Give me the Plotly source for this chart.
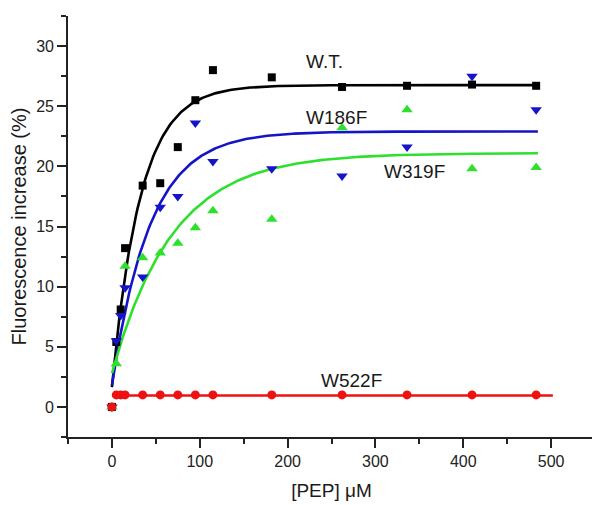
import numpy as np
import plotly.graph_objects as go

# PEP concentration (uM)
pep = [0, 5, 10, 15, 35, 55, 75, 95, 115, 182, 262, 336, 410, 483]

wt    = [0, 5.4, 8.1, 13.2, 18.4, 18.6, 21.6, 25.5, 28.0, 27.4, 26.6, 26.7, 26.8, 26.7]
w186f = [0, 5.5, 7.6, 9.9, 10.8, 16.6, 17.5, 23.6, 20.4, 19.8, 19.2, 21.6, 27.5, 24.7]
w319f = [0, 3.6, None, 11.7, 12.4, 12.8, 13.6, 14.9, 16.3, 15.6, 23.2, 24.7, 19.8, 19.9]
w522f = [0, 1.0, 1.0, 1.0, 1.0, 1.0, 1.0, 1.0, 1.0, 1.0, 1.0, 1.0, 1.0, 1.0]

# exponential rise fit parameters y = c + A*(1-exp(-k x)): [c, A, k, xmax]
fit_wt    = [1.65, 25.1, 0.0307, 485]
fit_w186f = [1.8, 21.1, 0.023, 485]
fit_w319f = [2.8, 18.3, 0.0145, 485]
fit_w522f = [0.95, 0.0, 0.0, 502]

labels = ["W.T.", "W186F", "W319F", "W522F"]
label_pos_x = [242, 256, 345, 273]
label_pos_y = [28.7, 24.1, 19.6, 2.2]

colors = ["#000000", "#1414c8", "#2ee02e", "#ee1111"]
symbols = ["square", "triangle-down", "triangle-up", "circle"]
sizes = [8, 10, 10, 9]

series = [wt, w186f, w319f, w522f]
fits = [fit_wt, fit_w186f, fit_w319f, fit_w522f]

FONT = "Liberation Sans, Arial, sans-serif"

fig = go.Figure()
for ys, fp, col in zip(series, fits, colors):
    c, A, k, xmax = fp
    xf = np.linspace(0, xmax, 300)
    yf = c + A * (1 - np.exp(-k * xf))
    fig.add_trace(go.Scatter(x=xf, y=yf, mode="lines",
                             line=dict(color=col, width=2.6),
                             hoverinfo="skip", showlegend=False))
for ys, col, sym, sz in zip(series, colors, symbols, sizes):
    fig.add_trace(go.Scatter(x=pep, y=ys, mode="markers",
                             marker=dict(color=col, symbol=sym, size=sz,
                                         line=dict(width=0)),
                             showlegend=False))

for t, xx, yy in zip(labels, label_pos_x, label_pos_y):
    fig.add_annotation(x=xx, y=yy, text=t, showarrow=False,
                       font=dict(size=19, color="#1a1a1a", family=FONT))

axis_common = dict(
    showline=True, linecolor="#222222", linewidth=1.6,
    ticks="outside", ticklen=9, tickwidth=1.6, tickcolor="#222222",
    showgrid=False, zeroline=False, mirror=False, automargin=False,
    tickfont=dict(size=16, color="#222222", family=FONT),
)

fig.update_xaxes(**axis_common, range=[-50, 550], tickvals=[0, 100, 200, 300, 400, 500],
                 minor=dict(tickvals=[-50, 50, 150, 250, 350, 450, 550], ticklen=5,
                            tickwidth=1.6, tickcolor="#222222", ticks="outside",
                            showgrid=False),
                 title=dict(text="[PEP] μM", standoff=15,
                            font=dict(size=19, color="#1a1a1a", family=FONT)))
fig.update_yaxes(**axis_common, range=[-2.5, 32.5], tickvals=[0, 5, 10, 15, 20, 25, 30],
                 minor=dict(tickvals=[-2.5, 2.5, 7.5, 12.5, 17.5, 22.5, 27.5, 32.5],
                            ticklen=5, tickwidth=1.6, tickcolor="#222222",
                            ticks="outside", showgrid=False),
                 title=dict(text="Fluorescence increase (%)", standoff=8,
                            font=dict(size=20, color="#1a1a1a", family=FONT)))

fig.update_layout(width=592, height=497,
                  margin=dict(l=60, r=5, t=8, b=68),
                  plot_bgcolor="white", paper_bgcolor="white",
                  showlegend=False)

fig.write_html("out.html")
